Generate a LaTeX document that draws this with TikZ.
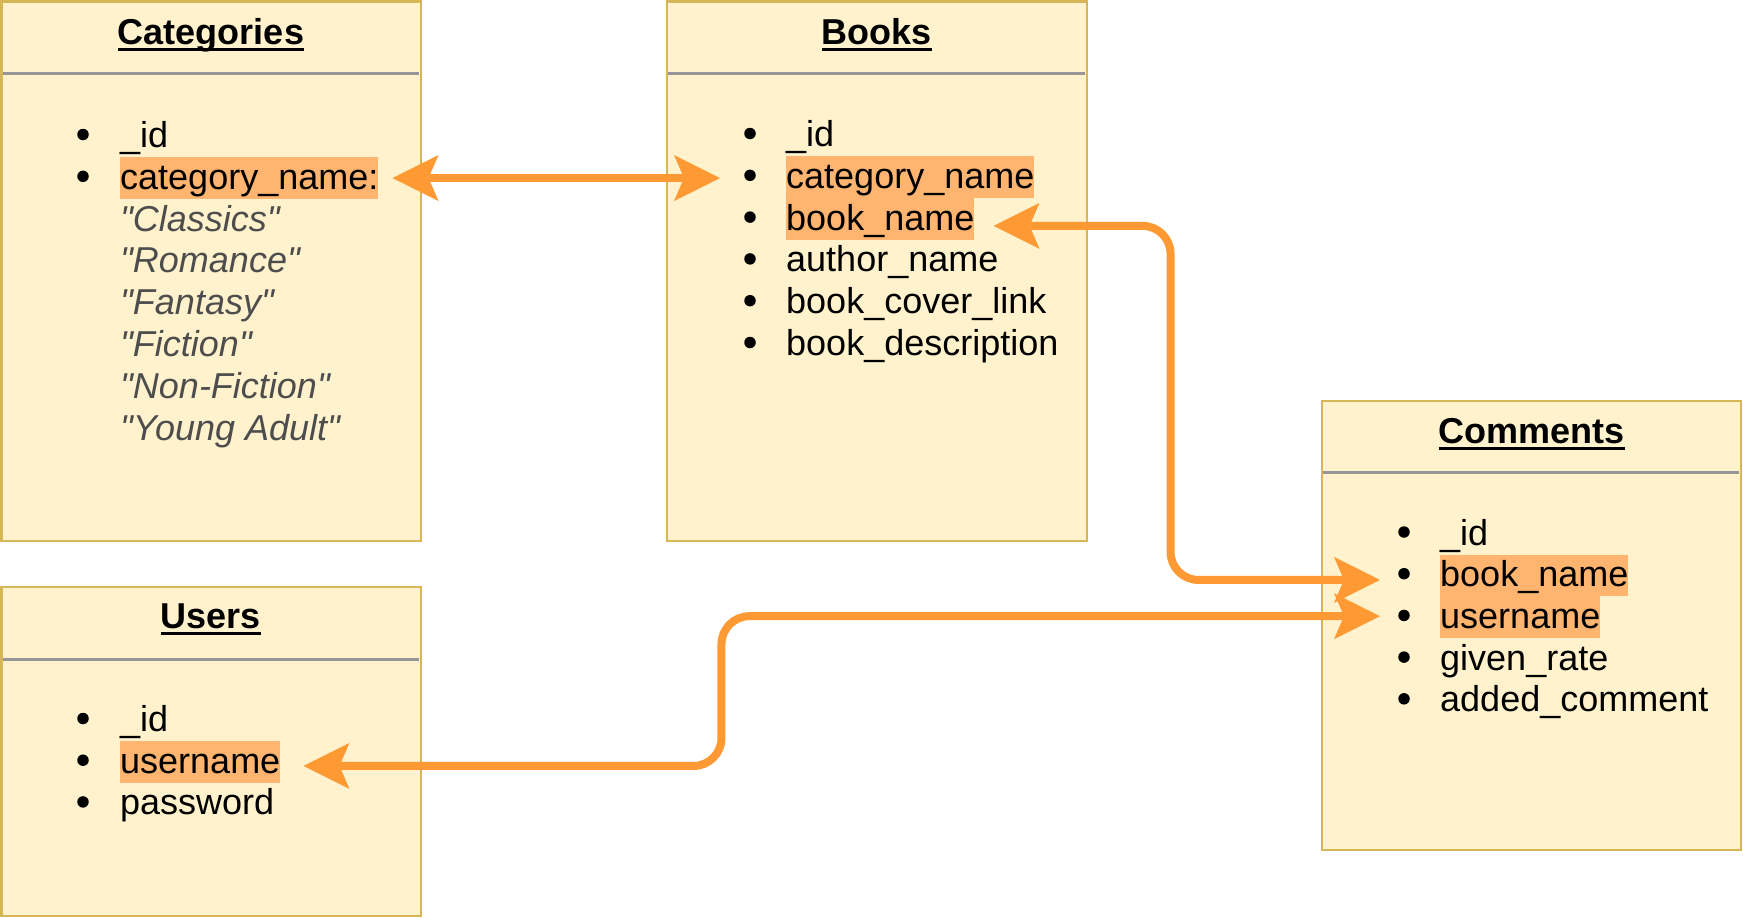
\documentclass[tikz,border=0pt]{standalone}
\usepackage{fontspec}
\setmainfont{Liberation Sans}
\usetikzlibrary{arrows.meta}
\definecolor{boxfill}{RGB}{255,242,204}
\definecolor{boxline}{RGB}{214,182,86}
\definecolor{hlfill}{RGB}{255,181,112}
\definecolor{arrowc}{RGB}{255,153,51}
\definecolor{divgray}{RGB}{150,150,150}
\definecolor{itgray}{RGB}{77,77,77}
\newcommand\ultitle[1]{\setbox0\hbox{#1}\rlap{\rule[-6.5pt]{\wd0}{3pt}}\box0}
\newcommand\qq[1]{\textquotedbl#1\textquotedbl}
\begin{document}
\begin{tikzpicture}[x=1pt,y=-1pt,
  tablebox/.style={draw=boxline, fill=boxfill, line width=2.5pt, anchor=north west, inner sep=0pt, outer sep=0pt},
  divider/.style={draw=divgray, line width=3pt},
  field/.style={anchor=base west, inner sep=0pt, font=\fontsize{36}{42}\selectfont},
  hl/.style={field, fill=hlfill, text height=32pt, text depth=9.5pt},
  catval/.style={field, text=itgray, font=\fontsize{36}{42}\selectfont\itshape},
  bul/.style={circle, fill=black, minimum size=11.5pt, inner sep=0pt, yshift=13pt},
  ttl/.style={anchor=base, inner sep=0pt, font=\fontsize{36}{42}\selectfont\bfseries},
  conn/.style={draw=arrowc, line width=8pt, >={Stealth[length=46pt,width=46pt,inset=10pt,line width=0pt]}, <->, rounded corners=28pt}
]
\useasboundingbox (0,0) rectangle (1743,918);

% boxes
\node[tablebox, minimum width=419.5pt, minimum height=539.5pt] (cat) at (1.5,1.5) {};
\node[tablebox, minimum width=420pt, minimum height=539.5pt] (books) at (667,1.5) {};
\node[tablebox, minimum width=419.5pt, minimum height=329pt] (users) at (1.5,587) {};
\node[tablebox, minimum width=419pt, minimum height=449pt] (comm) at (1322,401) {};

% dividers
\draw[divider] (3,73) -- (419,73);
\draw[divider] (668,73) -- (1085,73);
\draw[divider] (3,659) -- (419,659);
\draw[divider] (1323,472) -- (1739,472);

% titles
\node[ttl] (tcat) at (211,44.5) {\ultitle{Categories}};
\node[ttl] (tbooks) at (877,44.5) {\ultitle{Books}};
\node[ttl] (tusers) at (211,628.5) {\ultitle{Users}};
\node[ttl] (tcomm) at (1531.5,443.5) {\ultitle{Comments}};

% Categories
\node[bul] (cb1) at (83,147.5) {};
\node[bul] (cb2) at (83,189.3) {};
\node[field] (c_id) at (120,147.5) {\_id};
\node[hl] (c_cn) at (120,189.3) {category\_name:};
\node[catval] (cv1) at (120,231.1) {\qq{Classics}};
\node[catval] (cv2) at (120,272.9) {\qq{Romance}};
\node[catval] (cv3) at (120,314.7) {\qq{Fantasy}};
\node[catval] (cv4) at (120,356.5) {\qq{Fiction}};
\node[catval] (cv5) at (120,398.3) {\qq{Non-Fiction}};
\node[catval] (cv6) at (120,440.1) {\qq{Young Adult}};

% Books
\node[bul] (bb1) at (750,146.5) {};
\node[bul] (bb2) at (750,188.3) {};
\node[bul] (bb3) at (750,230.1) {};
\node[bul] (bb4) at (750,271.9) {};
\node[bul] (bb5) at (750,313.7) {};
\node[bul] (bb6) at (750,355.5) {};
\node[field] (b_id) at (786,146.5) {\_id};
\node[hl] (b_cn) at (786,188.3) {category\_name};
\node[hl] (b_bn) at (786,230.1) {book\_name};
\node[field] (b_an) at (786,271.9) {author\_name};
\node[field] (b_cl) at (786,313.7) {book\_cover\_link};
\node[field] (b_bd) at (786,355.5) {book\_description};

% Comments
\node[bul] (mb1) at (1404,545) {};
\node[bul] (mb2) at (1404,586.7) {};
\node[bul] (mb3) at (1404,628.4) {};
\node[bul] (mb4) at (1404,670.1) {};
\node[bul] (mb5) at (1404,711.8) {};
\node[field] (m_id) at (1440,545) {\_id};
\node[hl] (m_bn) at (1440,586.7) {book\_name};
\node[hl] (m_un) at (1440,628.4) {username};
\node[field] (m_gr) at (1440,670.1) {given\_rate};
\node[field] (m_ac) at (1440,711.8) {added\_comment};

% Users
\node[bul] (ub1) at (83,731.5) {};
\node[bul] (ub2) at (83,773.2) {};
\node[bul] (ub3) at (83,814.9) {};
\node[field] (u_id) at (120,731.5) {\_id};
\node[hl] (u_un) at (120,773.2) {username};
\node[field] (u_pw) at (120,814.9) {password};

% connector end points
\coordinate (a1s) at ([xshift=14pt]c_cn.east);
\coordinate (a1e) at ([xshift=-66pt]b_cn.west |- a1s);
\coordinate (a2s) at ([xshift=19pt,yshift=-7pt]b_bn.east);
\coordinate (a2e) at ([xshift=-60pt,yshift=-4.5pt]m_bn.west);
\coordinate (a3s) at ([xshift=23pt,yshift=-4pt]u_un.east);
\coordinate (a3e) at ([xshift=-60pt,yshift=1pt]m_un.west);

% connectors
\draw[conn] (a1s) -- (a1e);
\draw[conn] (a2s) -- ++(177,0) |- (a2e);
\draw[conn] (a3s) -- ++(418,0) |- (a3e);
\end{tikzpicture}
\end{document}
